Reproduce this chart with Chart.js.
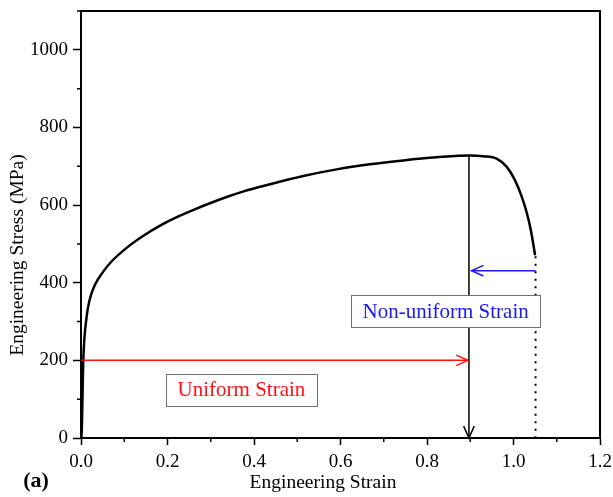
<!DOCTYPE html>
<html>
<head>
<meta charset="utf-8">
<script src="https://cdn.jsdelivr.net/npm/chart.js@4.4.1/dist/chart.umd.min.js"></script>
<style>
html, body { margin: 0; padding: 0; background: #fff; }
#stressStrain { display: block; }
</style>
</head>
<body>
<canvas id="stressStrain" width="613" height="497"></canvas>
<script>
// engineering stress-strain curve
const strain = [0, 0.0015, 0.0053, 0.013, 0.020, 0.032, 0.051, 0.070, 0.109, 0.147, 0.186, 0.224, 0.263, 0.301, 0.340, 0.378, 0.417, 0.455, 0.514, 0.591, 0.668, 0.745, 0.822, 0.899, 0.930, 0.961, 0.984, 1.003, 1.019, 1.031, 1.040, 1.050];
const stress = [0, 12, 200, 312, 356, 394, 428, 454, 493, 523, 549, 570, 589, 606, 622, 636, 648, 659, 675, 692, 705, 715, 723, 728, 726, 720, 699, 665, 622, 579, 536, 471];

// marker lines: uniform strain, non-uniform strain, peak drop and fracture
const uniformX = [0, 0.895];
const uniformY = [200, 200];
const neckingX = [1.051, 0.903];
const neckingY = [431, 431];
const peakX = [0.897, 0.897];
const peakY = [728, 0];
const fractureX = [1.051, 1.051];
const fractureY = [468, 0];

// axis ticks
const xTickValues = [0, 0.2, 0.4, 0.6, 0.8, 1.0, 1.2];
const xMinorValues = [0.1, 0.3, 0.5, 0.7, 0.9, 1.1];
const yTickValues = [0, 200, 400, 600, 800, 1000];
const yMinorValues = [100, 300, 500, 700, 900, 1100];

const FONT = '"Liberation Serif", "Times New Roman", serif';

function toPoints(xs, ys) {
    return xs.map((x, i) => ({ x, y: ys[i] }));
}

const textBoxes = [
    { text: "Non-uniform Strain", x: 0.843, y: 327, color: "#1a1aee" },
    { text: "Uniform Strain", x: 0.371, y: 124, color: "#ff1010" }
];

const frameAndTicks = {
    id: "frameAndTicks",
    afterDatasetsDraw(chart) {
        const { ctx, scales } = chart;

        // open arrow heads at the end of marked lines
        chart.data.datasets.forEach((ds, i) => {
            if (!ds.arrowHead) {
                return;
            }
            const pts = chart.getDatasetMeta(i).data;
            const tip = pts[pts.length - 1];
            const prev = pts[pts.length - 2];
            const ang = Math.atan2(tip.y - prev.y, tip.x - prev.x);
            const len = 13;
            const spread = 0.42;
            ctx.save();
            ctx.strokeStyle = ds.borderColor;
            ctx.lineWidth = ds.borderWidth;
            ctx.beginPath();
            ctx.moveTo(tip.x - len * Math.cos(ang - spread), tip.y - len * Math.sin(ang - spread));
            ctx.lineTo(tip.x, tip.y);
            ctx.lineTo(tip.x - len * Math.cos(ang + spread), tip.y - len * Math.sin(ang + spread));
            ctx.stroke();
            ctx.restore();
        });

        // labelled boxes
        ctx.save();
        ctx.font = `21px ${FONT}`;
        ctx.textAlign = "center";
        ctx.textBaseline = "middle";
        textBoxes.forEach(box => {
            const cx = scales.x.getPixelForValue(box.x);
            const cy = scales.y.getPixelForValue(box.y);
            const w = ctx.measureText(box.text).width + 23;
            const h = 32;
            ctx.fillStyle = "#fff";
            ctx.fillRect(cx - w / 2, cy - h / 2, w, h);
            ctx.strokeStyle = "#707070";
            ctx.lineWidth = 1;
            ctx.strokeRect(Math.round(cx - w / 2) + 0.5, Math.round(cy - h / 2) + 0.5, Math.round(w), h);
            ctx.fillStyle = box.color;
            ctx.fillText(box.text, cx, cy + 1);
        });
        ctx.restore();
    },
    afterDraw(chart) {
        const { ctx, chartArea, scales } = chart;
        ctx.save();
        ctx.strokeStyle = "#000";
        ctx.lineWidth = 2;
        ctx.strokeRect(chartArea.left, chartArea.top, chartArea.right - chartArea.left, chartArea.bottom - chartArea.top);

        // minor ticks
        ctx.lineWidth = 1.5;
        ctx.beginPath();
        xMinorValues.forEach(v => {
            const px = scales.x.getPixelForValue(v);
            ctx.moveTo(px, chartArea.bottom);
            ctx.lineTo(px, chartArea.bottom + 4);
        });
        yMinorValues.forEach(v => {
            const py = scales.y.getPixelForValue(v);
            ctx.moveTo(chartArea.left, py);
            ctx.lineTo(chartArea.left - 4, py);
        });
        ctx.stroke();

        // axis titles
        ctx.fillStyle = "#000";
        ctx.font = `19.5px ${FONT}`;
        ctx.textAlign = "center";
        ctx.textBaseline = "middle";
        ctx.fillText("Engineering Strain", 323, 483);
        ctx.save();
        ctx.translate(18, 255);
        ctx.rotate(-Math.PI / 2);
        ctx.fillText("Engineering Stress (MPa)", 0, 0);
        ctx.restore();

        ctx.font = `bold 22px ${FONT}`;
        ctx.fillText("(a)", 36, 481);
        ctx.restore();
    }
};

new Chart(document.getElementById("stressStrain"), {
    type: "scatter",
    data: {
        datasets: [
            {
                data: toPoints(peakX, peakY),
                borderColor: "#000",
                borderWidth: 1.5,
                arrowHead: true
            },
            {
                data: toPoints(fractureX, fractureY),
                borderColor: "#000",
                borderWidth: 2,
                borderDash: [2, 5.5]
            },
            {
                data: toPoints(uniformX, uniformY),
                borderColor: "#ff1010",
                borderWidth: 1.5,
                arrowHead: true
            },
            {
                data: toPoints(neckingX, neckingY),
                borderColor: "#1a1aee",
                borderWidth: 1.5,
                arrowHead: true
            },
            {
                data: toPoints(strain, stress),
                borderColor: "#000",
                borderWidth: 2.5,
                cubicInterpolationMode: "monotone"
            }
        ].map(ds => Object.assign({ showLine: true, pointRadius: 0, fill: false }, ds))
    },
    options: {
        responsive: false,
        animation: false,
        layout: {
            padding: { top: 11, right: 13, left: 0, bottom: 0 }
        },
        plugins: {
            legend: { display: false },
            tooltip: { enabled: false }
        },
        scales: {
            x: {
                type: "linear",
                min: 0,
                max: 1.2,
                afterFit: scale => {
                    scale.height = 59;
                    scale.paddingLeft = 0;
                    scale.paddingRight = 0;
                },
                afterBuildTicks: scale => { scale.ticks = xTickValues.map(value => ({ value })); },
                border: { color: "#000", width: 2 },
                grid: {
                    drawOnChartArea: false,
                    tickLength: 7,
                    tickColor: "#000",
                    tickWidth: 1.5
                },
                ticks: {
                    color: "#000",
                    padding: 6,
                    maxRotation: 0,
                    autoSkip: false,
                    font: { family: FONT, size: 19 },
                    callback: v => Number(v).toFixed(1)
                }
            },
            y: {
                type: "linear",
                min: 0,
                max: 1100,
                afterFit: scale => {
                    scale.width = 81;
                    scale.paddingTop = 0;
                    scale.paddingBottom = 0;
                },
                afterBuildTicks: scale => { scale.ticks = yTickValues.map(value => ({ value })); },
                border: { color: "#000", width: 2 },
                grid: {
                    drawOnChartArea: false,
                    tickLength: 8,
                    tickColor: "#000",
                    tickWidth: 1.5
                },
                ticks: {
                    color: "#000",
                    padding: 5,
                    autoSkip: false,
                    font: { family: FONT, size: 19 },
                    callback: v => String(v)
                }
            }
        }
    },
    plugins: [frameAndTicks]
});
</script>
</body>
</html>
